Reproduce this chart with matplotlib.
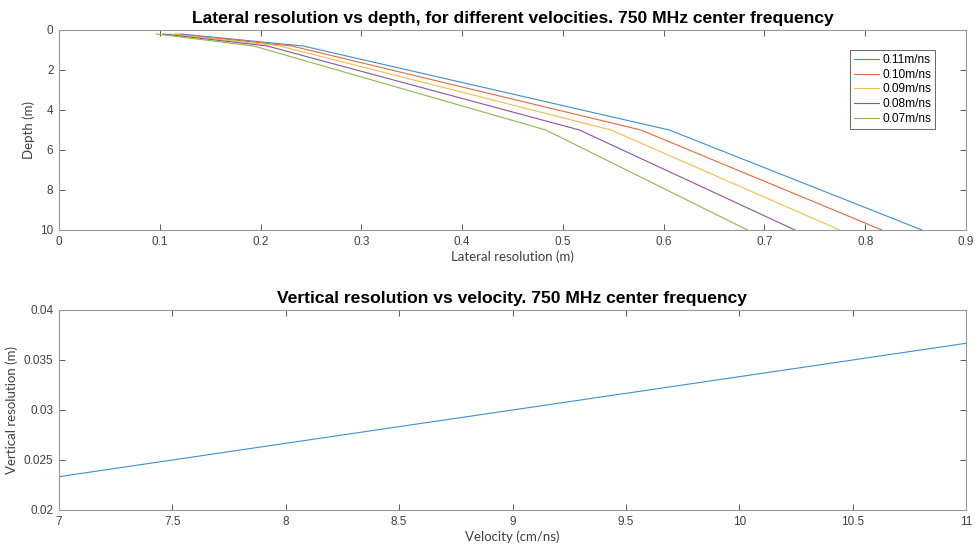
import matplotlib
matplotlib.use('Agg')
import matplotlib.pyplot as plt

plt.rcParams['font.family'] = ['Liberation Sans', 'DejaVu Sans']

# depths (m) and lateral resolution (m) per velocity, 750 MHz
depth = [0.2, 0.8, 5, 10]
labels = ['0.11m/ns', '0.10m/ns', '0.09m/ns', '0.08m/ns', '0.07m/ns']
lat_011 = [0.1211, 0.2422, 0.6055, 0.8563]
lat_010 = [0.1155, 0.2309, 0.5774, 0.8165]
lat_009 = [0.1095, 0.2191, 0.5477, 0.7746]
lat_008 = [0.1033, 0.2066, 0.5164, 0.7303]
lat_007 = [0.0966, 0.1932, 0.4830, 0.6831]
lateral = [lat_011, lat_010, lat_009, lat_008, lat_007]

# vertical resolution vs velocity
velocity = [7, 8, 9, 10, 11]
vert_res = [0.02333, 0.02667, 0.03, 0.03333, 0.03667]

# MATLAB default line colours, a little lighter as thin lines look in the original
colors = ['#3f8fcf', '#e46a3d', '#f0bd4b', '#8a55a0', '#8ab84f']
axcol = (0.25, 0.25, 0.25)
lblfont = ['Lato', 'DejaVu Sans']

fig = plt.figure(figsize=(9.79, 5.5), dpi=100)
ax1 = fig.add_axes([59/979, 1-230/550, 907/979, 200/550])
ax2 = fig.add_axes([59/979, 1-510/550, 907/979, 200/550])

for lat, lab, c in zip(lateral, labels, colors):
    ax1.plot(lat, depth, color=c, lw=0.8, label=lab)
ax1.set_xlim(0, 0.9)
ax1.set_ylim(10, 0)
ax1.set_xticks([i/10 for i in range(10)])
ax1.set_xticklabels(['0', '0.1', '0.2', '0.3', '0.4', '0.5', '0.6', '0.7', '0.8', '0.9'])
ax1.set_yticks([0, 2, 4, 6, 8, 10])
ax1.set_xlabel('Lateral resolution (m)', fontsize=9.5, color=axcol, labelpad=2, family=lblfont)
ax1.set_ylabel('Depth (m)', fontsize=9.5, color=axcol, labelpad=4, family=lblfont)
ax1.set_title('Lateral resolution vs depth, for different velocities. 750 MHz center frequency',
              fontsize=12.6, fontweight='bold', pad=5)
leg = ax1.legend(loc='upper right', bbox_to_anchor=(0.966, 0.9), fontsize=8.6,
                 fancybox=False, framealpha=1, edgecolor=(0.4, 0.4, 0.4), handlelength=2.1,
                 handletextpad=0.25, borderpad=0.35, labelspacing=0.22, borderaxespad=0)
leg.get_frame().set_linewidth(0.7)

ax2.plot(velocity, vert_res, color=colors[0], lw=0.8)
ax2.set_xlim(7, 11)
ax2.set_ylim(0.02, 0.04)
ax2.set_xticks([7, 7.5, 8, 8.5, 9, 9.5, 10, 10.5, 11])
ax2.set_xticklabels(['7', '7.5', '8', '8.5', '9', '9.5', '10', '10.5', '11'])
ax2.set_yticks([0.02, 0.025, 0.03, 0.035, 0.04])
ax2.set_yticklabels(['0.02', '0.025', '0.03', '0.035', '0.04'])
ax2.set_xlabel('Velocity (cm/ns)', fontsize=9.5, color=axcol, labelpad=2, family=lblfont)
ax2.set_ylabel('Vertical resolution (m)', fontsize=9.5, color=axcol, labelpad=4, family=lblfont)
ax2.set_title('Vertical resolution vs velocity. 750 MHz center frequency',
              fontsize=12.6, fontweight='bold', pad=5)

for ax in (ax1, ax2):
    ax.tick_params(direction='in', top=True, right=True, labelsize=8.5,
                   colors=axcol, length=4, width=0.6, pad=4)
    for s in ax.spines.values():
        s.set_color((0.6, 0.6, 0.6))
        s.set_linewidth(0.8)

fig.savefig('out.png', dpi=100)
